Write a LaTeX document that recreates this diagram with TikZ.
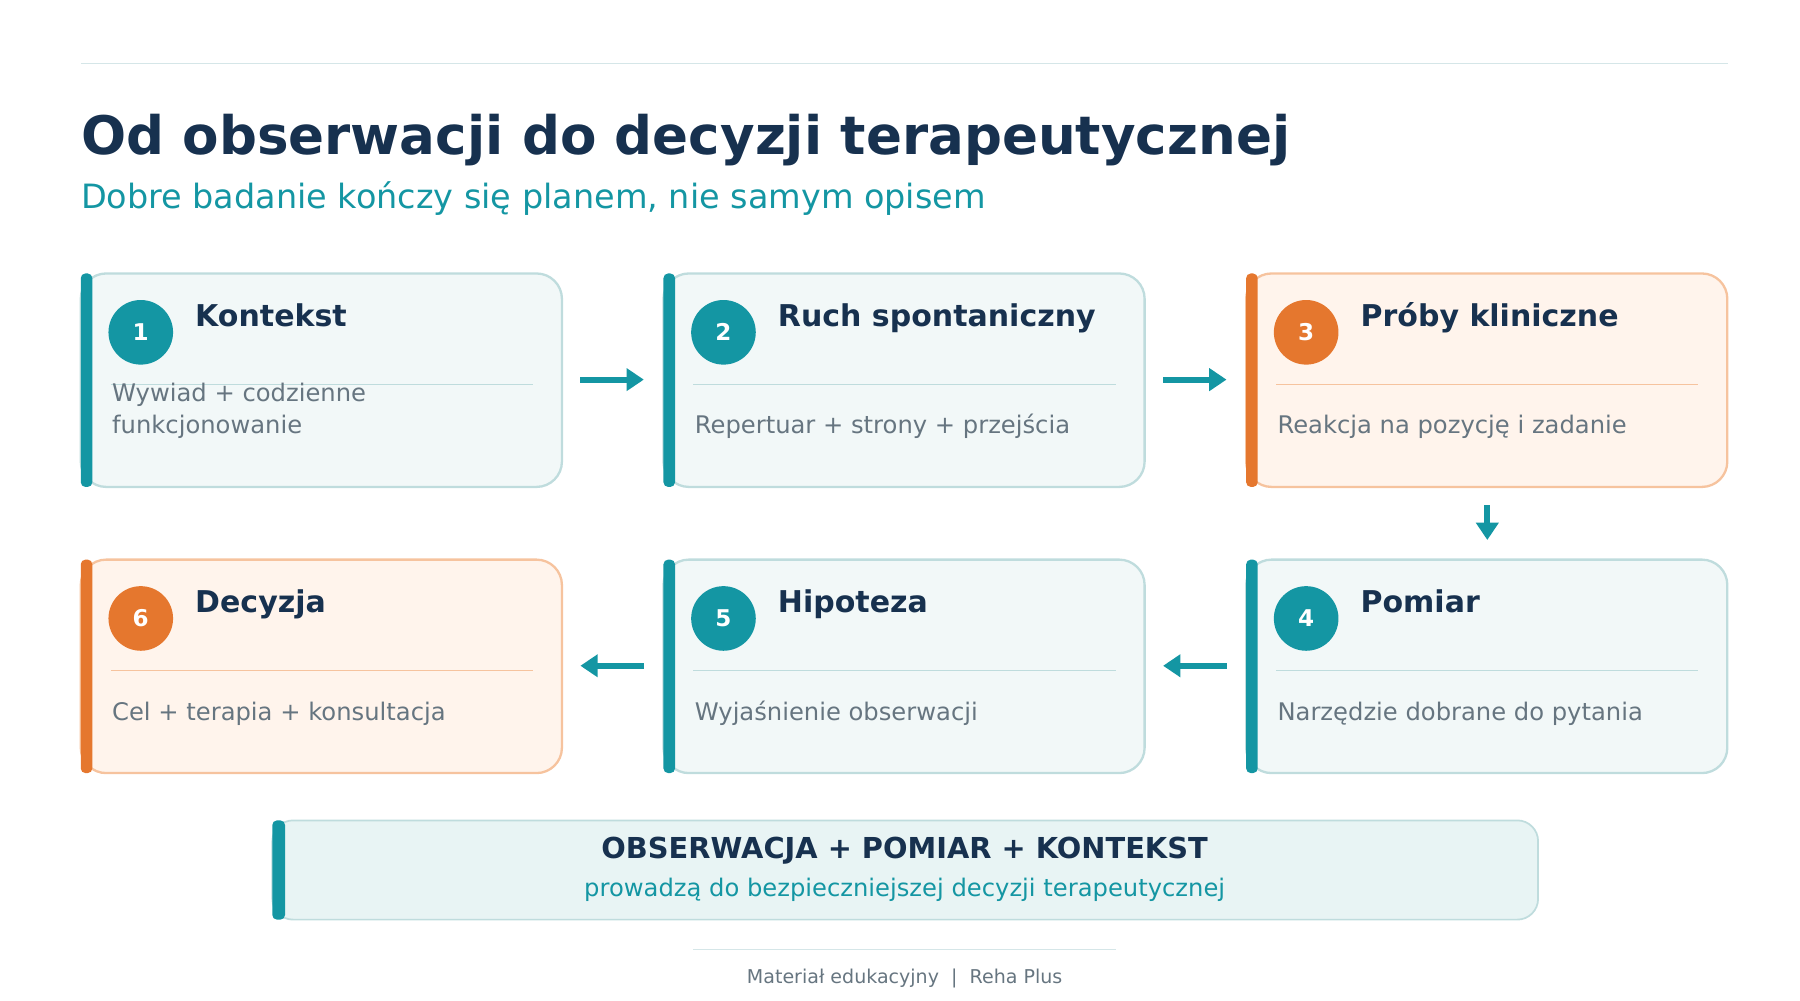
\documentclass[tikz,border=0pt]{standalone}
\usepackage{fontspec}
\setmainfont{DejaVu Sans}
\usetikzlibrary{arrows.meta}
\definecolor{teal}{HTML}{1496A3}
\definecolor{org}{HTML}{E5772E}
\definecolor{navy}{HTML}{17314F}
\definecolor{gtext}{HTML}{667580}
\definecolor{tfill}{HTML}{F2F8F8}
\definecolor{tbord}{HTML}{BFDCDD}
\definecolor{ofill}{HTML}{FFF4EC}
\definecolor{obord}{HTML}{F6C39E}
\definecolor{bfill}{HTML}{E8F4F4}
\definecolor{rule}{HTML}{D5E6E8}
\begin{document}
\begin{tikzpicture}[x=1pt,y=-1pt,
 head/.style={anchor=base west,font=\fontsize{26}{30}\selectfont\bfseries,text=navy,inner sep=0},
 body/.style={anchor=base west,font=\fontsize{21}{28}\selectfont,text=gtext,inner sep=0,align=left},
 num/.style={circle,minimum size=56pt,inner sep=0,text=white,font=\fontsize{20}{24}\selectfont\bfseries},
 arr/.style={draw=teal,line width=5pt,-{Triangle[length=15pt,width=19pt]}}]
\useasboundingbox (0,0) rectangle (1560,866.7);
\draw[rule,line width=1.2pt] (70,55) -- (1498,55);
\node[anchor=base west,inner sep=0,font=\fontsize{46}{50}\selectfont\bfseries,text=navy] (title) at (70,134) {Od obserwacji do decyzji terapeutycznej};
\node[anchor=base west,inner sep=0,font=\fontsize{29}{34}\selectfont,text=teal] (sub) at (70,181) {Dobre badanie kończy się planem, nie samym opisem};
% card macro
\newcommand{\card}[8]{% name,x,y,fill,border,accent,num,head,body -> 8 args, body separate
 \begin{scope}[shift={(#2,#3)}]
 \draw[fill=#4,draw=#5,line width=2pt,rounded corners=22pt] (0,0) rectangle (417,185);
 \fill[#6,rounded corners=4pt] (0,0) rectangle (10,185);
 \coordinate (#1) at (208.5,92.5);
 \node[num,fill=#6] (#1n) at (52,51) {#7};
 \node[head] (#1h) at (99,46) {#8};
 \draw[#5,line width=1.2pt] (26,96) -- (392,96);
 \end{scope}}
\card{c1}{70}{237}{tfill}{tbord}{teal}{1}{Kontekst}
\node[body] at (97,376) {Wywiad + codzienne\\funkcjonowanie};
\card{c2}{575}{237}{tfill}{tbord}{teal}{2}{Ruch spontaniczny}
\node[body] at (602,376) {Repertuar + strony + przejścia};
\card{c3}{1080}{237}{ofill}{obord}{org}{3}{Próby kliniczne}
\node[body] at (1107,376) {Reakcja na pozycję i zadanie};
\card{c4}{1080}{485}{tfill}{tbord}{teal}{4}{Pomiar}
\node[body] at (1107,624) {Narzędzie dobrane do pytania};
\card{c5}{575}{485}{tfill}{tbord}{teal}{5}{Hipoteza}
\node[body] at (602,624) {Wyjaśnienie obserwacji};
\card{c6}{70}{485}{ofill}{obord}{org}{6}{Decyzja}
\node[body] at (97,624) {Cel + terapia + konsultacja};
\coordinate (a1s) at (503,329); \coordinate (a1e) at (558,329);
\draw[arr] (a1s) -- (a1e);
\coordinate (a2s) at (1008,329); \coordinate (a2e) at (1063,329);
\draw[arr] (a2s) -- (a2e);
\coordinate (a3s) at (1289,438); \coordinate (a3e) at (1289,468);
\draw[arr] (a3s) -- (a3e);
\coordinate (a4s) at (1063,577); \coordinate (a4e) at (1008,577);
\draw[arr] (a4s) -- (a4e);
\coordinate (a5s) at (558,577); \coordinate (a5e) at (503,577);
\draw[arr] (a5s) -- (a5e);
\draw[fill=bfill,draw=tbord,line width=1.5pt,rounded corners=18pt] (236,711) rectangle (1333,797);
\fill[teal,rounded corners=4pt] (236,711) rectangle (247,797);
\node[anchor=base,inner sep=0,font=\fontsize{25}{30}\selectfont\bfseries,text=navy] (b1) at (784,744) {OBSERWACJA + POMIAR + KONTEKST};
\node[anchor=base,inner sep=0,font=\fontsize{21}{26}\selectfont,text=teal] (b2) at (784,777) {prowadzą do bezpieczniejszej decyzji terapeutycznej};
\draw[rule,line width=1.2pt] (601,823) -- (967,823);
\node[anchor=base,inner sep=0,font=\fontsize{16.5}{20}\selectfont,text=gtext] (f) at (784,852) {Materiał edukacyjny \ | \ Reha Plus};
\end{tikzpicture}
\end{document}
